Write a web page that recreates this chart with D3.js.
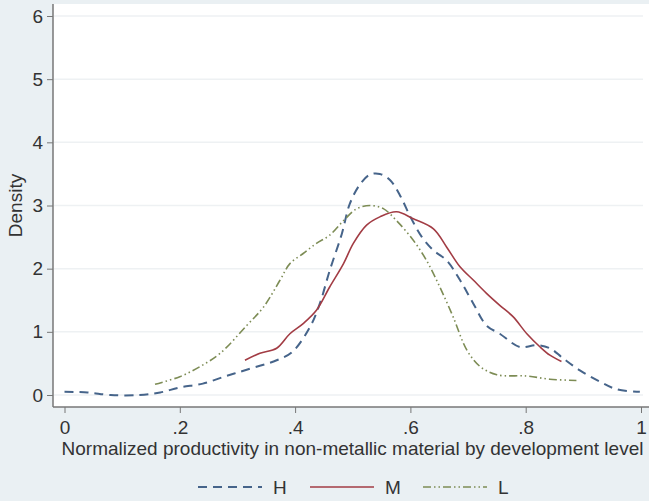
<!DOCTYPE html>
<html>
<head>
<meta charset="utf-8">
<script src="https://cdn.jsdelivr.net/npm/d3@7"></script>
<style>
  body { margin: 0; background: #eaf0f3; }
  svg { display: block; font-family: "Liberation Sans", Arial, sans-serif; }
</style>
</head>
<body>
<svg width="649" height="501"></svg>
<script>
"use strict";

// kernel density estimates
const hX = [0, 0.04, 0.08, 0.13, 0.166, 0.2, 0.24, 0.28, 0.316, 0.368, 0.395, 0.426, 0.443, 0.46, 0.481, 0.495, 0.513, 0.53, 0.547, 0.565, 0.582, 0.6, 0.62, 0.64, 0.663, 0.686, 0.709, 0.732, 0.755, 0.79, 0.819, 0.842, 0.865, 0.894, 0.929, 0.958, 0.998];
const hY = [0.05, 0.04, 0, 0, 0.04, 0.12, 0.18, 0.3, 0.4, 0.55, 0.68, 1.08, 1.45, 1.97, 2.55, 3.03, 3.34, 3.49, 3.5, 3.4, 3.16, 2.82, 2.5, 2.29, 2.13, 1.82, 1.45, 1.1, 0.97, 0.76, 0.79, 0.74, 0.58, 0.39, 0.21, 0.09, 0.05];

const mX = [0.313, 0.339, 0.368, 0.391, 0.414, 0.437, 0.46, 0.484, 0.501, 0.524, 0.547, 0.576, 0.605, 0.64, 0.663, 0.686, 0.709, 0.732, 0.755, 0.778, 0.802, 0.825, 0.842, 0.862];
const mY = [0.55, 0.66, 0.74, 0.97, 1.13, 1.34, 1.71, 2.08, 2.4, 2.69, 2.82, 2.9, 2.79, 2.63, 2.34, 2.03, 1.82, 1.61, 1.42, 1.24, 0.97, 0.76, 0.63, 0.53];

const lX = [0.157, 0.2, 0.235, 0.27, 0.316, 0.345, 0.374, 0.391, 0.414, 0.437, 0.46, 0.484, 0.507, 0.53, 0.553, 0.576, 0.605, 0.628, 0.651, 0.674, 0.698, 0.721, 0.75, 0.802, 0.842, 0.888];
const lY = [0.17, 0.29, 0.45, 0.66, 1.1, 1.39, 1.82, 2.08, 2.24, 2.4, 2.53, 2.76, 2.95, 3.0, 2.95, 2.76, 2.45, 2.13, 1.71, 1.24, 0.71, 0.45, 0.32, 0.3, 0.25, 0.23];

const seriesNames = ["H", "M", "L"];
const xTicks = [0, 0.2, 0.4, 0.6, 0.8, 1];
const yTicks = [0, 1, 2, 3, 4, 5, 6];
const xTitle = "Normalized productivity in non-metallic material by development level";
const yTitle = "Density";

const svg = d3.select("svg");
const fontSize = 19;
const textColor = "#333";

const box = { left: 53, right: 649, top: 4, bottom: 407 };

const xScale = d3.scaleLinear().domain([0, 1]).range([64.5, 641]);
const yScale = d3.scaleLinear().domain([0, 6]).range([395, 16]);

const styles = {
  H: { color: "#46648a", width: 2, dash: "9,6" },
  M: { color: "#a23c44", width: 1.6, dash: null },
  L: { color: "#7d8c55", width: 1.6, dash: "8,3,1.5,3,1.5,3" }
};

const series = [
  { name: "H", pts: d3.zip(hX, hY) },
  { name: "M", pts: d3.zip(mX, mY) },
  { name: "L", pts: d3.zip(lX, lY) }
];

// plot region
svg.append("rect")
  .attr("x", box.left)
  .attr("y", box.top)
  .attr("width", box.right - box.left)
  .attr("height", box.bottom - box.top)
  .attr("fill", "#ffffff");

// gridlines
svg.append("g")
  .selectAll("line")
  .data(yTicks)
  .enter()
  .append("line")
  .attr("x1", box.left + 1)
  .attr("x2", box.right - 6)
  .attr("y1", d => yScale(d))
  .attr("y2", d => yScale(d))
  .attr("stroke", "#eef1f3")
  .attr("stroke-width", 1.5);

const line = d3.line()
  .x(d => xScale(d[0]))
  .y(d => yScale(d[1]))
  .curve(d3.curveCatmullRom.alpha(0.5));

svg.append("g")
  .selectAll("path")
  .data(series)
  .enter()
  .append("path")
  .attr("d", d => line(d.pts))
  .attr("fill", "none")
  .attr("stroke", d => styles[d.name].color)
  .attr("stroke-width", d => styles[d.name].width)
  .attr("stroke-dasharray", d => styles[d.name].dash);

// axes
const tickFmt = d => (d === 0 || d === 1) ? String(d) : String(d).replace(/^0/, "");

const yAxisG = svg.append("g")
  .attr("transform", `translate(${box.left},0)`)
  .call(d3.axisLeft(yScale).tickValues(yTicks).tickFormat(d3.format("d")).tickSize(6).tickPadding(4));
yAxisG.select(".domain").remove();
yAxisG.selectAll(".tick line").attr("stroke", "#777");
yAxisG.selectAll(".tick text").attr("font-size", fontSize).attr("fill", textColor);

const xAxisG = svg.append("g")
  .attr("transform", `translate(0,${box.bottom})`)
  .call(d3.axisBottom(xScale).tickValues(xTicks).tickFormat(tickFmt).tickSize(6).tickPadding(8));
xAxisG.select(".domain").remove();
xAxisG.selectAll(".tick line").attr("stroke", "#777");
xAxisG.selectAll(".tick text").attr("font-size", fontSize).attr("fill", textColor);

svg.append("line")
  .attr("x1", box.left).attr("x2", box.left)
  .attr("y1", box.top).attr("y2", box.bottom)
  .attr("stroke", "#777").attr("stroke-width", 1.5);
svg.append("line")
  .attr("x1", box.left).attr("x2", box.right)
  .attr("y1", box.bottom).attr("y2", box.bottom)
  .attr("stroke", "#777").attr("stroke-width", 1.5);

// titles
svg.append("text")
  .attr("x", (62 + 643) / 2)
  .attr("y", 455)
  .attr("text-anchor", "middle")
  .attr("font-size", fontSize)
  .attr("fill", textColor)
  .text(xTitle);

svg.append("text")
  .attr("transform", `translate(22,${(box.top + box.bottom) / 2}) rotate(-90)`)
  .attr("text-anchor", "middle")
  .attr("font-size", fontSize)
  .attr("fill", textColor)
  .text(yTitle);

// legend
const legendX = [198, 310, 423];
const legend = svg.append("g")
  .selectAll("g")
  .data(seriesNames)
  .enter()
  .append("g")
  .attr("transform", (d, i) => `translate(${legendX[i]},487)`);

legend.append("line")
  .attr("x1", 0).attr("x2", 64)
  .attr("stroke", d => styles[d].color)
  .attr("stroke-width", d => styles[d].width)
  .attr("stroke-dasharray", d => styles[d].dash);

legend.append("text")
  .attr("x", 75)
  .attr("y", 7)
  .attr("font-size", fontSize)
  .attr("fill", textColor)
  .text(d => d);
</script>
</body>
</html>
